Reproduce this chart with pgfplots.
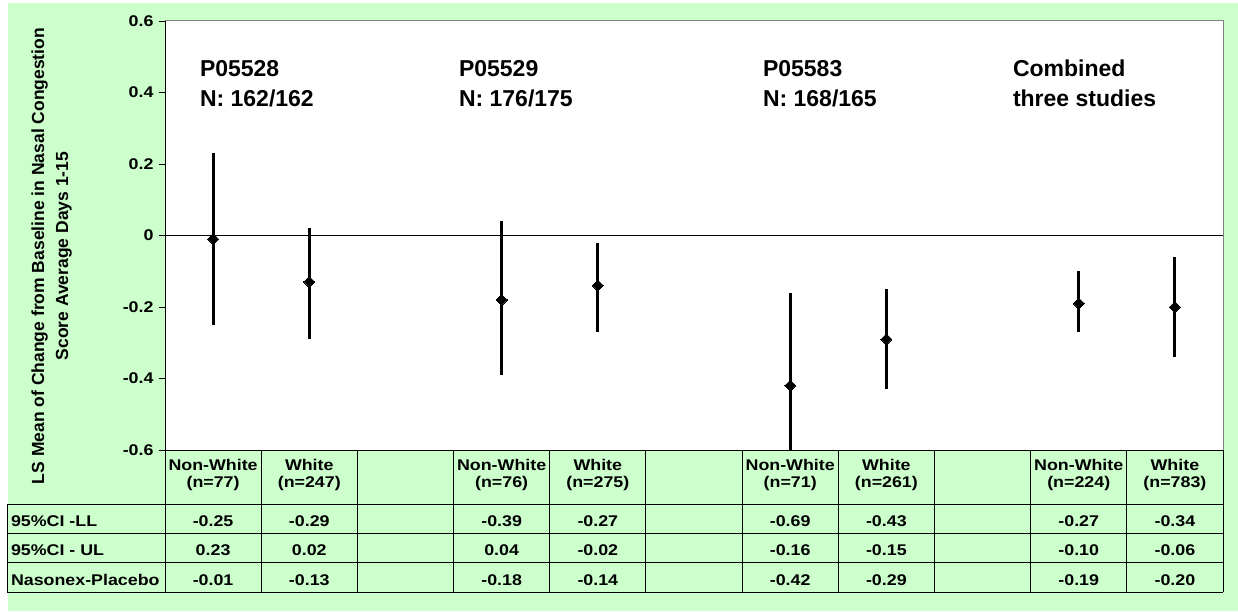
\documentclass[border=0pt]{standalone}
\usepackage{pgfplots}
\pgfplotsset{compat=1.18}
\usepackage{pgfplotstable}
\usepackage{fontspec}
\setmainfont{Liberation Sans}[FakeStretch=1.15]
\newfontfamily\plainf{Liberation Sans}
\definecolor{bggreen}{HTML}{CCFFCC}
\newcommand\tf{\fontsize{15.5}{17}\selectfont\bfseries}
\newcommand\ttl{\plainf\fontsize{23}{29}\selectfont\bfseries}
\newcommand\ylf{\plainf\fontsize{17.5}{24}\selectfont\bfseries}

\pgfplotstableread{
x y lo hi
0 -0.01 -0.25 0.23
1 -0.13 -0.29 0.02
3 -0.18 -0.39 0.04
4 -0.14 -0.27 -0.02
6 -0.42 -0.69 -0.16
7 -0.29 -0.43 -0.15
9 -0.19 -0.27 -0.10
10 -0.20 -0.34 -0.06
}\data

\begin{document}
\begin{tikzpicture}[txt/.style={inner sep=0pt, outer sep=0pt}]
\useasboundingbox (0pt,0pt) rectangle (1238pt,611pt);
\fill[bggreen] (8pt,0pt) rectangle (1238pt,608pt);
\begin{axis}[
  at={(165pt,161pt)}, anchor=south west,
  scale only axis, width=1058pt, height=429pt,
  xmin=-0.5, xmax=10.5, ymin=-0.6, ymax=0.6,
  axis background/.style={fill=white},
  axis line style={draw=none},
  xtick=\empty,
  ytick={-0.6,-0.4,-0.2,0,0.2,0.4,0.6},
  yticklabels={-0.6,-0.4,-0.2,0,0.2,0.4,0.6},
  ytick pos=left, tick align=outside, major tick length=6pt,
  tick style={black, line width=0.8pt},
  yticklabel style={font=\tf, xshift=-2pt},
  clip=true,
]
\addplot[black, line width=0.9pt, forget plot] coordinates {(-0.5,0) (10.5,0)};
\addplot[only marks, mark=square*, mark size=3.9pt,
  mark options={rotate=45, draw=black, fill=black, line width=0pt},
  error bars/.cd, y dir=both, y explicit, error mark=none,
  error bar style={line width=3pt, black}]
  table[x=x, y=y, y error plus expr=\thisrow{hi}-\thisrow{y},
        y error minus expr=\thisrow{y}-\thisrow{lo}] {\data};
\end{axis}
% plot frame
\draw[gray, line width=1pt] (165pt,590pt) -- (1223pt,590pt) -- (1223pt,161pt);
\draw[black, line width=1pt] (165pt,161pt) -- (165pt,590pt);
% y label
\node[txt, rotate=90, anchor=base, font=\ylf] at (44pt,355pt) {LS Mean of Change from Baseline in Nasal Congestion};
\node[txt, rotate=90, anchor=base, font=\ylf] at (68pt,355pt) {Score Average Days 1-15};
% titles
\node[txt, anchor=base west, font=\ttl] at (200pt,534pt) {P05528};
\node[txt, anchor=base west, font=\ttl] at (200pt,504.5pt) {N: 162/162};
\node[txt, anchor=base west, font=\ttl] at (459pt,534pt) {P05529};
\node[txt, anchor=base west, font=\ttl] at (459pt,504.5pt) {N: 176/175};
\node[txt, anchor=base west, font=\ttl] at (763pt,534pt) {P05583};
\node[txt, anchor=base west, font=\ttl] at (763pt,504.5pt) {N: 168/165};
\node[txt, anchor=base west, font=\ttl] at (1013pt,534pt) {Combined};
\node[txt, anchor=base west, font=\ttl] at (1013pt,504.5pt) {three studies};
% table grid
\begin{scope}[black, line width=1pt]
\draw (165pt,161pt) -- (1223pt,161pt);
\foreach \yy in {107,78,49,19} \draw (7pt,\yy pt) -- (1223pt,\yy pt);
\draw (7pt,19pt) -- (7pt,107pt);
\foreach \k in {0,...,11} {
  \pgfmathsetmacro\xx{165+\k*96.1818}
  \draw (\xx pt,19pt) -- (\xx pt,161pt);
}
\end{scope}
% row labels
\node[txt, anchor=base west, font=\tf] at (11pt,85pt) {95\%CI -LL};
\node[txt, anchor=base west, font=\tf] at (11pt,56pt) {95\%CI - UL};
\node[txt, anchor=base west, font=\tf] at (11pt,26pt) {Nasonex-Placebo};
% table cells
\foreach \i/\a/\b/\c/\d/\e in {
  0/Non-White/{(n=77)}/-0.25/0.23/-0.01,
  1/White/{(n=247)}/-0.29/0.02/-0.13,
  3/Non-White/{(n=76)}/-0.39/0.04/-0.18,
  4/White/{(n=275)}/-0.27/-0.02/-0.14,
  6/Non-White/{(n=71)}/-0.69/-0.16/-0.42,
  7/White/{(n=261)}/-0.43/-0.15/-0.29,
  9/Non-White/{(n=224)}/-0.27/-0.10/-0.19,
  10/White/{(n=783)}/-0.34/-0.06/-0.20} {
  \pgfmathsetmacro\xc{165+(\i+0.5)*96.1818}
  \node[txt, anchor=base, font=\tf] at (\xc pt,141pt) {\a};
  \node[txt, anchor=base, font=\tf] at (\xc pt,124pt) {\b};
  \node[txt, anchor=base, font=\tf] at (\xc pt,85pt) {\c};
  \node[txt, anchor=base, font=\tf] at (\xc pt,56pt) {\d};
  \node[txt, anchor=base, font=\tf] at (\xc pt,26pt) {\e};
}
\end{tikzpicture}
\end{document}
